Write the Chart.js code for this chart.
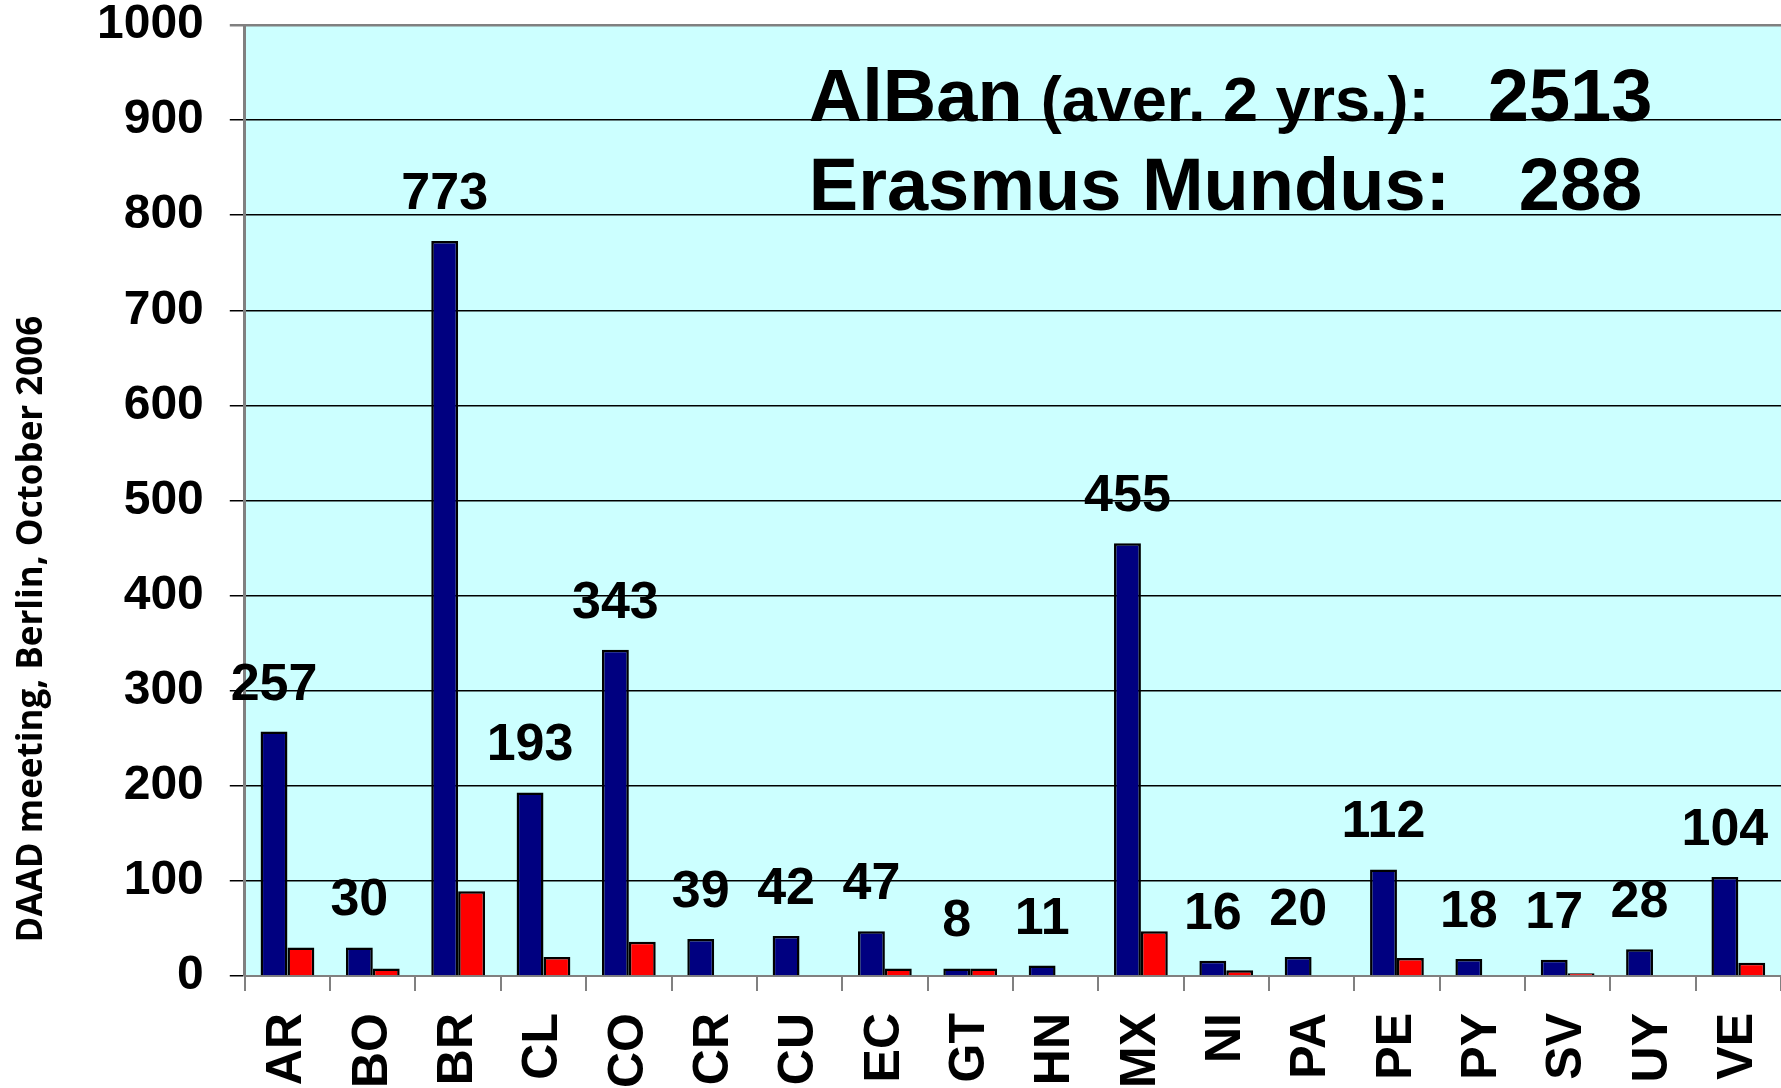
<!DOCTYPE html>
<html>
<head>
<meta charset="utf-8">
<script src="https://cdn.jsdelivr.net/npm/chart.js@4.4.1/dist/chart.umd.min.js"></script>
<style>
    body { margin: 0; background: #fff; }
    #wrap { width: 1781px; height: 1088px; position: relative; }
</style>
</head>
<body>
<div id="wrap"><canvas id="chart"></canvas></div>
<script>
// Countries (ISO codes)
const countries = ['AR', 'BO', 'BR', 'CL', 'CO', 'CR', 'CU', 'EC', 'GT', 'HN', 'MX', 'NI', 'PA', 'PE', 'PY', 'SV', 'UY', 'VE'];

// AlBan scholarships (average of 2 years)
const alban = [257, 30, 773, 193, 343, 39, 42, 47, 8, 11, 455, 16, 20, 112, 18, 17, 28, 104];

// Erasmus Mundus scholarships (no bar where null)
const erasmus = [30, 8, 89, 20, 36, null, null, 8, 8, null, 47, 6, null, 19, null, 3, null, 14];

const yTicks = [0, 100, 200, 300, 400, 500, 600, 700, 800, 900, 1000];

const albanTotal = 2513;
const erasmusTotal = 288;
const sideNote = 'DAAD meeting, Berlin, October 2006';

const boldFont = '"Liberation Sans", Arial, sans-serif';

// plot background
const plotBg = {
    id: 'plotBg',
    beforeDraw(chart) {
        const { ctx, chartArea: a } = chart;
        ctx.save();
        ctx.fillStyle = '#CCFFFF';
        ctx.fillRect(a.left, a.top, a.right - a.left, a.bottom - a.top);
        ctx.restore();
    }
};

// value labels over the blue bars, totals box and side note
const annotations = {
    id: 'annotations',
    afterDatasetsDraw(chart) {
        const { ctx, chartArea: a } = chart;
        ctx.save();
        ctx.fillStyle = '#000';

        // numbers above AlBan bars
        ctx.font = 'bold 52px ' + boldFont;
        ctx.textAlign = 'center';
        ctx.textBaseline = 'alphabetic';
        chart.getDatasetMeta(0).data.forEach((bar, i) => {
            ctx.fillText(String(alban[i]), bar.x, bar.y - 32);
        });

        // totals
        ctx.textAlign = 'left';
        ctx.font = 'bold 74px ' + boldFont;
        ctx.fillText('AlBan', a.left + 564, a.top + 96);
        ctx.fillText(String(albanTotal), a.left + 1243, a.top + 96);
        ctx.fillText('Erasmus Mundus:', a.left + 564, a.top + 185);
        ctx.fillText(String(erasmusTotal), a.left + 1274, a.top + 185);
        ctx.font = 'bold 63px ' + boldFont;
        ctx.fillText('(aver. 2 yrs.):', a.left + 796, a.top + 96, 401);

        // side note
        ctx.translate(32, 629);
        ctx.rotate(-Math.PI / 2);
        ctx.textAlign = 'center';
        ctx.textBaseline = 'middle';
        ctx.font = 'bold 35px "Open Sans", sans-serif';
        ctx.fillText(sideNote, 0, 0, 639);
        ctx.restore();
    }
};

// keep tick labels from pushing the plot area in
function noOverhang(scale) {
    scale.paddingTop = 0;
    scale.paddingBottom = 0;
    scale.paddingLeft = 0;
    scale.paddingRight = 0;
}

const ctx = document.getElementById('chart').getContext('2d');
new Chart(ctx, {
    type: 'bar',
    data: {
        labels: countries,
        datasets: [{
            label: 'AlBan',
            data: alban,
            backgroundColor: '#000080',
            borderColor: '#000',
            borderWidth: 2.5,
            borderSkipped: 'bottom',
            categoryPercentage: 0.63,
            barPercentage: 1.0
        }, {
            label: 'Erasmus Mundus',
            data: erasmus,
            backgroundColor: '#FF0000',
            borderColor: '#000',
            borderWidth: 2.5,
            borderSkipped: 'bottom',
            categoryPercentage: 0.63,
            barPercentage: 1.0
        }]
    },
    options: {
        responsive: true,
        maintainAspectRatio: false,
        animation: false,
        layout: { padding: { left: 71, top: 25, right: 0, bottom: -22 } },
        plugins: {
            legend: { display: false },
            tooltip: { enabled: false }
        },
        scales: {
            x: {
                afterFit: noOverhang,
                grid: {
                    offset: true,
                    drawOnChartArea: false,
                    drawTicks: true,
                    tickLength: 15,
                    color: '#808080',
                    lineWidth: 2
                },
                border: { color: '#808080', width: 2 },
                ticks: {
                    minRotation: 90,
                    maxRotation: 90,
                    padding: 22,
                    color: '#000',
                    font: { family: boldFont, size: 50, weight: 'bold' }
                }
            },
            y: {
                min: yTicks[0],
                max: yTicks[yTicks.length - 1],
                afterFit: noOverhang,
                afterBuildTicks(scale) {
                    scale.ticks = yTicks.map(v => ({ value: v }));
                },
                grid: {
                    color: c => (c.tick && c.tick.value === 1000) ? '#808080' : '#000',
                    lineWidth: c => (c.tick && c.tick.value === 1000) ? 2.5 : 1.5,
                    tickLength: 15
                },
                border: { color: '#808080', width: 3 },
                ticks: {
                    padding: 26,
                    color: '#000',
                    callback: v => String(v),
                    font: { family: boldFont, size: 48, weight: 'bold' }
                }
            }
        }
    },
    plugins: [plotBg, annotations]
});
</script>
</body>
</html>
